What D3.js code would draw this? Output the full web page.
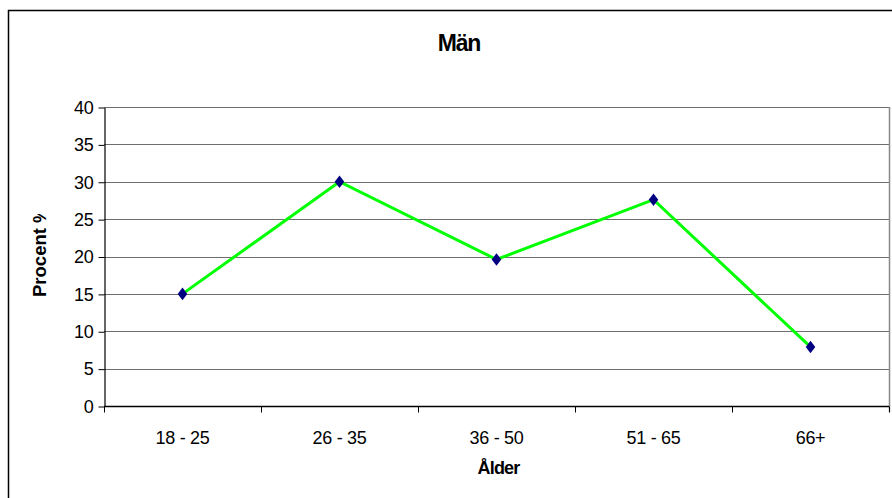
<!DOCTYPE html>
<html>
<head>
<meta charset="utf-8">
<script src="https://cdn.jsdelivr.net/npm/d3@7"></script>
<style>
  html, body { margin: 0; padding: 0; background: #fff; }
  svg { display: block; font-family: "Liberation Sans", Arial, sans-serif; }
</style>
</head>
<body>
<svg id="chart" width="892" height="498"></svg>
<script>
// Age groups and share of men per group (percent)
const categories = ["18 - 25", "26 - 35", "36 - 50", "51 - 65", "66+"];
const values = [15, 30, 19.6, 27.6, 7.9];
const yTicks = [0, 5, 10, 15, 20, 25, 30, 35, 40];

const title = "Män";
const xTitle = "Ålder";
const yTitle = "Procent %";

const svg = d3.select("#chart");
const W = 892, H = 498;
const plot = { left: 104, right: 889, top: 107, bottom: 406 };

// Outer chart border
svg.append("rect")
  .attr("x", 8.5).attr("y", 10.5)
  .attr("width", W).attr("height", H)
  .attr("fill", "#fff").attr("stroke", "#000").attr("stroke-width", 1.5);

const x = d3.scaleBand().domain(categories).range([plot.left, plot.right]).padding(0);
const y = d3.scaleLinear().domain([0, 40]).range([plot.bottom, plot.top]);

// Horizontal gridlines
svg.append("g")
  .selectAll("line")
  .data(yTicks.filter(t => t > 0))
  .join("line")
  .attr("x1", plot.left).attr("x2", plot.right)
  .attr("y1", d => Math.round(y(d)) + 0.5).attr("y2", d => Math.round(y(d)) + 0.5)
  .attr("stroke", "#6e6e6e").attr("stroke-width", 1.2);

// Right edge of plot area
svg.append("line")
  .attr("x1", plot.right + 0.5).attr("x2", plot.right + 0.5)
  .attr("y1", plot.top).attr("y2", plot.bottom + 6)
  .attr("stroke", "#888").attr("stroke-width", 1.5);

// Y axis
const yAxis = d3.axisLeft(y).tickValues(yTicks).tickSize(6).tickSizeOuter(0).tickPadding(5);
const gy = svg.append("g").attr("transform", `translate(${plot.left + 0.5},0.5)`).call(yAxis);
gy.select(".domain").attr("stroke", "#000").attr("stroke-width", 1.2);
gy.selectAll(".tick line").attr("stroke", "#000");
gy.selectAll(".tick text").attr("font-size", 18).attr("fill", "#000")
  .attr("letter-spacing", -0.3)
  .attr("font-family", "Liberation Sans, Arial, sans-serif");

// X axis with ticks at band edges
const gx = svg.append("g").attr("transform", `translate(0,${plot.bottom + 0.5})`);
gx.append("line")
  .attr("x1", plot.left).attr("x2", plot.right)
  .attr("stroke", "#000").attr("stroke-width", 1.5);
const edges = categories.map(c => x(c)).concat([plot.right]);
gx.selectAll("line.edge")
  .data(edges)
  .join("line")
  .attr("class", "edge")
  .attr("x1", d => Math.round(d) + 0.5).attr("x2", d => Math.round(d) + 0.5)
  .attr("y1", 0).attr("y2", 6)
  .attr("stroke", "#000");
gx.selectAll("text")
  .data(categories)
  .join("text")
  .attr("x", d => x(d) + x.bandwidth() / 2)
  .attr("y", 37)
  .attr("text-anchor", "middle")
  .attr("font-size", 18)
  .attr("letter-spacing", -0.3)
  .text(d => d);

// Line series
const line = d3.line()
  .x((d, i) => x(categories[i]) + x.bandwidth() / 2)
  .y(d => y(d));
svg.append("path")
  .datum(values)
  .attr("d", line)
  .attr("fill", "none")
  .attr("stroke", "#00ff00")
  .attr("stroke-width", 3);

// Diamond markers
const diamond = d3.symbol().type(d3.symbolDiamond).size(60);
svg.append("g")
  .selectAll("path")
  .data(values)
  .join("path")
  .attr("d", diamond)
  .attr("transform", (d, i) => `translate(${x(categories[i]) + x.bandwidth() / 2},${y(d)}) scale(1.15,0.87)`)
  .attr("fill", "#000080");

// Title
svg.append("text")
  .attr("x", 459).attr("y", 51)
  .attr("text-anchor", "middle")
  .attr("font-size", 23).attr("font-weight", "bold")
  .attr("letter-spacing", -1.2)
  .text(title);

// X axis title
svg.append("text")
  .attr("x", plot.left + (plot.right - plot.left) / 2 + 2).attr("y", 474)
  .attr("text-anchor", "middle")
  .attr("font-size", 18).attr("font-weight", "bold")
  .attr("letter-spacing", -0.8)
  .text(xTitle);

// Y axis title, clipped at the top of its frame
svg.append("clipPath").attr("id", "yclip")
  .append("rect").attr("x", 0).attr("y", 214).attr("width", 80).attr("height", 200);
svg.append("g")
  .attr("clip-path", "url(#yclip)")
  .append("text")
  .attr("transform", "translate(46,297) rotate(-90)")
  .attr("text-anchor", "start")
  .attr("font-size", 18.5).attr("font-weight", "bold")
  .text(yTitle);
</script>
</body>
</html>
